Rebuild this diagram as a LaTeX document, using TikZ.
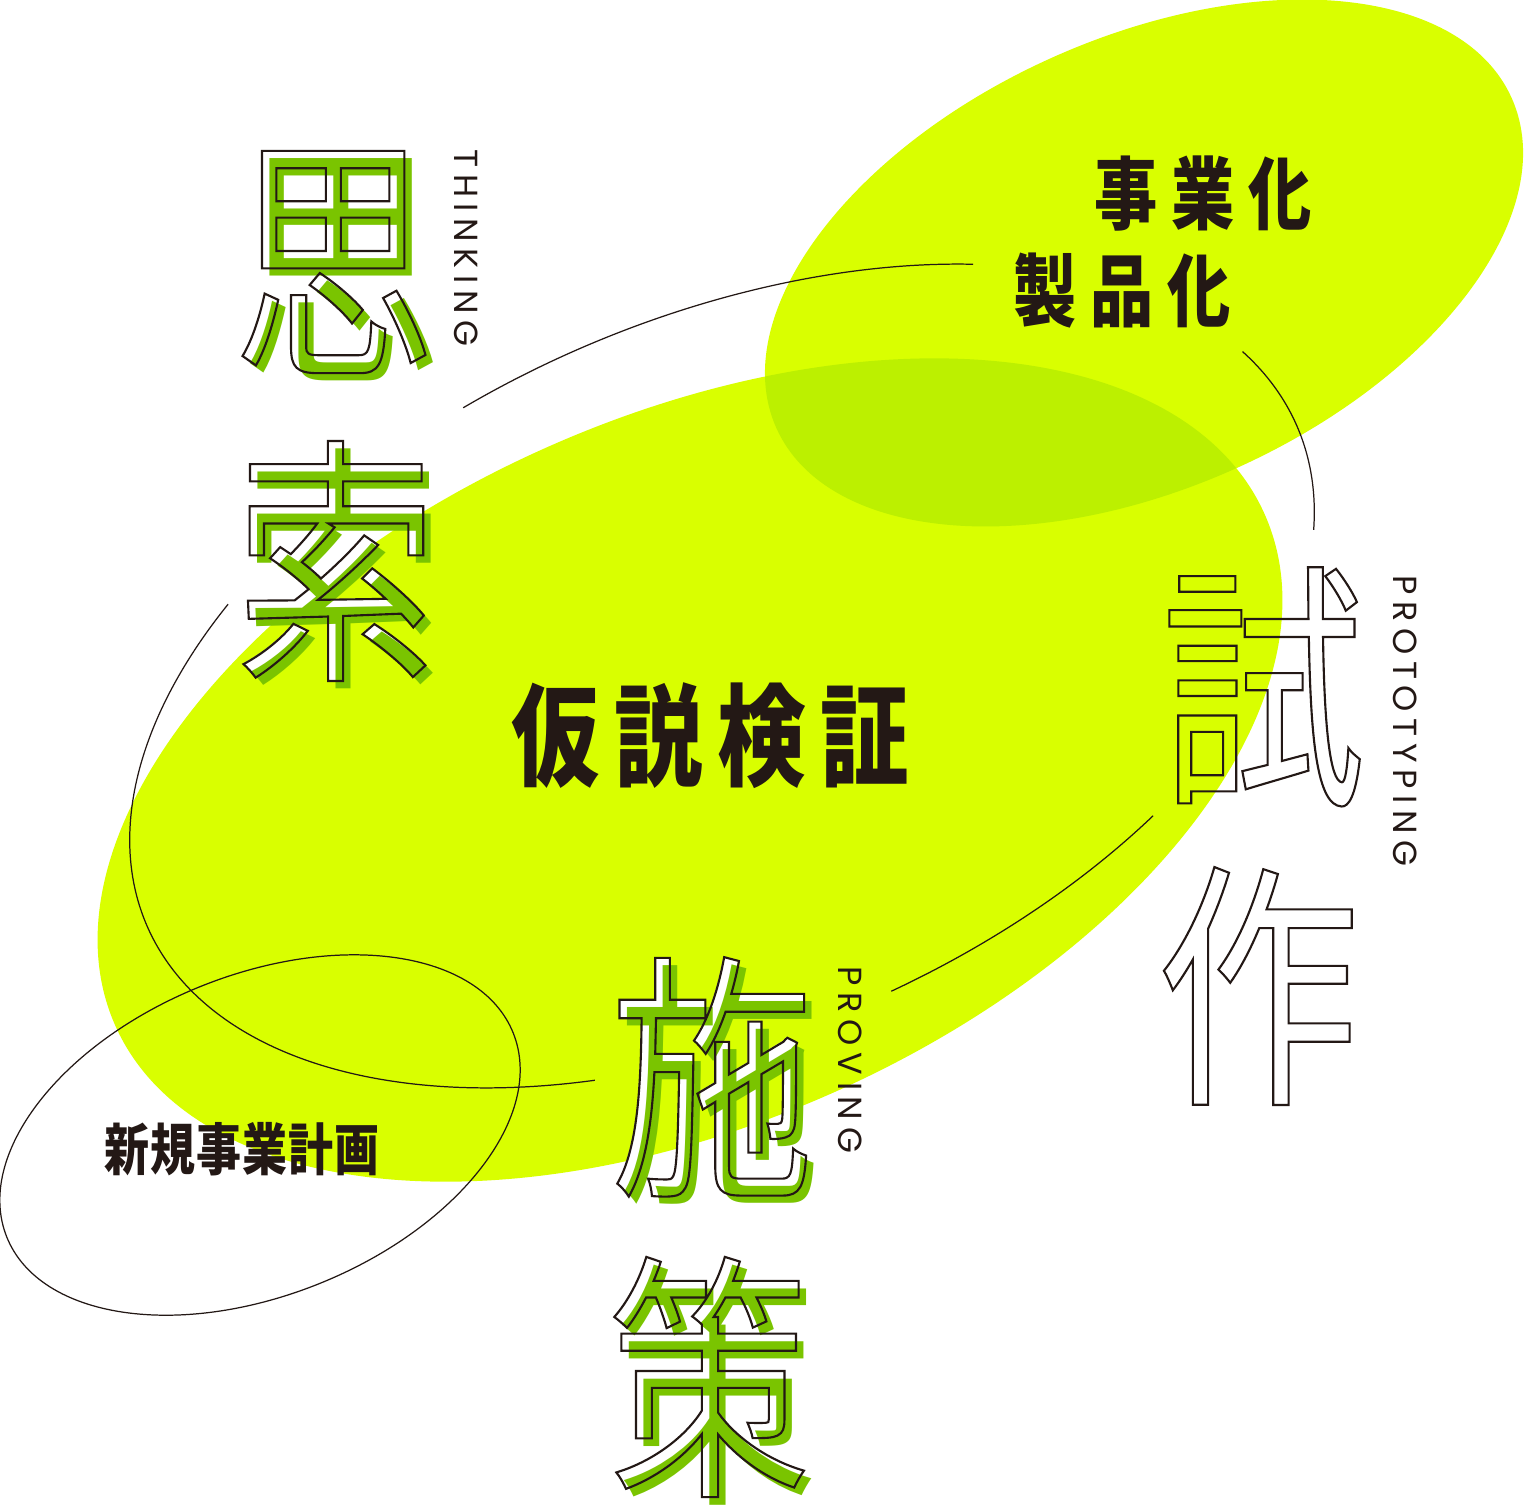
\documentclass[tikz,border=0pt]{standalone}
\usepackage{fontspec}
\usepackage{xcolor}
\setmainfont{Noto Sans CJK JP}
\newfontfamily\bigjp[FakeStretch=0.78]{Noto Sans CJK JP}
\newfontfamily\titlejp[FakeStretch=0.8,LetterSpace=13]{Noto Sans CJK JP}
\newfontfamily\phasejp[FakeStretch=0.8,LetterSpace=17]{Noto Sans CJK JP}
\newfontfamily\planjp[FakeStretch=0.8,LetterSpace=2]{Noto Sans CJK JP}
\newfontfamily\engfont[LetterSpace=20]{Poppins}
\definecolor{lime}{RGB}{217,255,0}
\definecolor{limedark}{RGB}{188,240,0}
\definecolor{leaf}{RGB}{122,196,0}
\definecolor{ink}{RGB}{35,24,21}
\newcommand{\hollow}[1]{{\special{pdf:code 0.137 0.094 0.082 RG 1.2 w 1 Tr}#1\special{pdf:code 0 Tr}}}
\tikzstyle{bigchar} = [inner sep=0pt, font=\bigjp\fontsize{148}{148}\selectfont]
\tikzstyle{fillchar} = [bigchar, text=white]
\tikzstyle{shadowchar} = [bigchar, text=leaf]
\tikzstyle{engvert} = [inner sep=0pt, rotate=-90, text=ink, font=\engfont\fontsize{19}{19}\selectfont]
\tikzstyle{loopline} = [draw=ink, line width=0.7pt]
\tikzstyle{bodytext} = [inner sep=0pt, text=ink]

\begin{document}
\begin{tikzpicture}[x=0.02cm, y=0.02cm]
    \useasboundingbox (0,0) rectangle (1524,-1508);
    \fill[white] (0,0) rectangle (1524,-1508);

    % 背景椭圆
    \fill[lime, rotate around={24:(690,-770)}] (690,-770) ellipse [x radius=629, y radius=353];
    \fill[lime, rotate around={24.2:(1144,-263)}] (1144,-263) ellipse [x radius=403, y radius=225];
    \begin{scope}
        \clip[rotate around={24.2:(1144,-263)}] (1144,-263) ellipse [x radius=403, y radius=225];
        \fill[limedark, rotate around={24:(690,-770)}] (690,-770) ellipse [x radius=629, y radius=353];
    \end{scope}

    % 细线
    \draw[loopline, rotate around={22:(260,-1135)}] (260,-1135) ellipse [x radius=273, y radius=160];
    \draw[loopline, shift={(722,-676)}, rotate=23.5] (51:627 and 357) arc[start angle=51, end angle=102, x radius=627, y radius=357];
    \draw[loopline, shift={(722,-676)}, rotate=23.5] (-16.6:627 and 357) arc[start angle=-16.6, end angle=14.6, x radius=627, y radius=357];
    \draw[loopline, shift={(722,-676)}, rotate=23.5] (-87.3:627 and 357) arc[start angle=-87.3, end angle=-57.2, x radius=627, y radius=357];
    \draw[loopline, shift={(722,-676)}, rotate=23.5] (132.6:627 and 357) arc[start angle=132.6, end angle=243.7, x radius=627, y radius=357];

    % 思索
    \node[fillchar] (thinkAw) at (334,-262) {思};
    \node[fillchar] (thinkBw) at (336,-561) {索};
    \node[shadowchar] (thinkAs) at (342,-270) {思};
    \node[shadowchar] (thinkBs) at (344,-569) {索};
    \node[bigchar] (thinkA) at (334,-262) {\hollow{思}};
    \node[bigchar] (thinkB) at (336,-561) {\hollow{索}};
    \node[engvert] (thinking) at (466,-248) {THINKING};

    % 施策
    \node[fillchar] (proveAw) at (712,-1077) {施};
    \node[fillchar] (proveBw) at (709,-1377) {策};
    \node[shadowchar] (proveAs) at (720,-1085) {施};
    \node[shadowchar] (proveBs) at (717,-1385) {策};
    \node[bigchar] (proveA) at (712,-1077) {\hollow{施}};
    \node[bigchar] (proveB) at (709,-1377) {\hollow{策}};
    \node[engvert] (proving) at (850,-1060) {PROVING};

    % 試作
    \node[bigchar] (protoA) at (1263,-687) {\hollow{試}};
    \node[bigchar] (protoB) at (1258,-986) {\hollow{作}};
    \node[engvert] (prototyping) at (1405,-721) {PROTOTYPING};

    % 文字
    \node[bodytext, font=\titlejp\bfseries\fontsize{63}{63}\selectfont] (verify) at (710,-736) {仮説検証};
    \node[bodytext, font=\phasejp\bfseries\fontsize{45}{45}\selectfont] (business) at (1203,-194) {事業化};
    \node[bodytext, font=\phasejp\bfseries\fontsize{45}{45}\selectfont] (product) at (1122,-291) {製品化};
    \node[bodytext, font=\planjp\bfseries\fontsize{32}{32}\selectfont] (plan) at (242,-1149) {新規事業計画};
\end{tikzpicture}
\end{document}
